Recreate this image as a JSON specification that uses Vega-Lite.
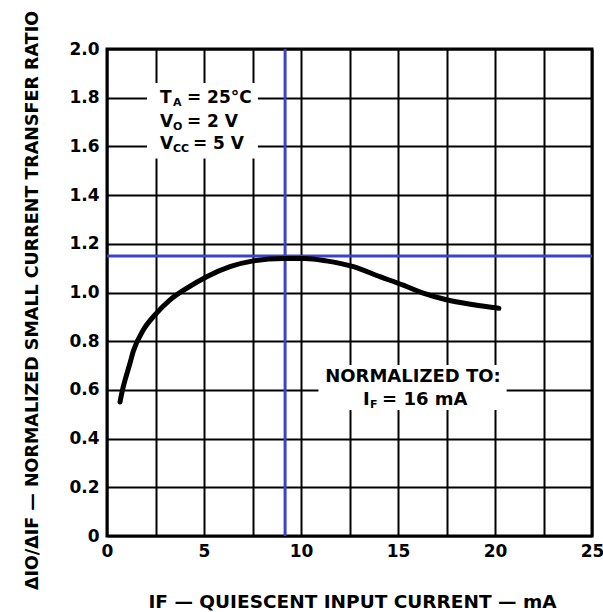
{
  "$schema": "https://vega.github.io/schema/vega-lite/v6.json",
  "width": 485,
  "height": 487,
  "autosize": "none",
  "padding": {"left": 107, "top": 49, "right": 11, "bottom": 76},
  "background": "white",
  "config": {
    "view": {"stroke": "black", "strokeWidth": 3},
    "font": "DejaVu Sans",
    "text": {"font": "DejaVu Sans", "fontWeight": "bold", "fontSize": 16, "color": "black"}
  },
  "datasets": {
    "curve": [
      {"x": 0.67, "y": 0.55}, {"x": 0.8, "y": 0.6}, {"x": 0.93, "y": 0.64}, {"x": 1.15, "y": 0.7},
      {"x": 1.36, "y": 0.76}, {"x": 1.87, "y": 0.846}, {"x": 2.47, "y": 0.908}, {"x": 3.25, "y": 0.97},
      {"x": 4.1, "y": 1.017}, {"x": 5.14, "y": 1.065}, {"x": 6.34, "y": 1.106}, {"x": 7.54, "y": 1.13},
      {"x": 9.1, "y": 1.14}, {"x": 10.2, "y": 1.14}, {"x": 11.3, "y": 1.13}, {"x": 12.7, "y": 1.106},
      {"x": 14.07, "y": 1.065}, {"x": 15.27, "y": 1.03}, {"x": 16.3, "y": 0.997}, {"x": 17.5, "y": 0.97},
      {"x": 18.9, "y": 0.95}, {"x": 20.2, "y": 0.935}
    ],
    "boxes": [
      {"x": 2.06, "x2": 7.78, "y": 1.55, "y2": 1.86},
      {"x": 10.9, "x2": 20.6, "y": 0.517, "y2": 0.702}
    ],
    "params": [
      {"x": 2.73, "y": 1.80, "main": "T", "sub": "A", "rest": "= 25°C", "grp": "a"},
      {"x": 2.73, "y": 1.70, "main": "V", "sub": "O", "rest": "= 2 V", "grp": "a"},
      {"x": 2.73, "y": 1.61, "main": "V", "sub": "CC", "rest": "= 5 V", "grp": "b"}
    ],
    "norm": [
      {"x": 15.77, "y": 0.653, "t": "NORMALIZED TO:"}
    ],
    "norm2": [
      {"x": 13.2, "y": 0.559, "main": "I", "sub": "F", "rest": "= 16 mA"}
    ],
    "vline": [{"x": 9.18}],
    "hline": [{"y": 1.15}]
  },
  "layer": [
    {
      "data": {"name": "boxes"},
      "mark": {"type": "rect", "fill": "white", "stroke": null},
      "encoding": {
        "x": {
          "field": "x", "type": "quantitative",
          "scale": {"domain": [0, 25], "nice": false, "zero": false},
          "axis": {
            "values": [0, 2.5, 5, 7.5, 10, 12.5, 15, 17.5, 20, 22.5, 25],
            "labelExpr": "datum.value % 5 === 0 ? datum.label : ''",
            "grid": true, "gridColor": "black", "gridWidth": 2, "gridOpacity": 1,
            "ticks": false, "domain": false,
            "labelFont": "DejaVu Sans", "labelFontWeight": "bold", "labelFontSize": 17, "labelColor": "black",
            "labelPadding": 7, "labelFlush": false, "labelOverlap": false, "labelBound": false,
            "title": "IF — QUIESCENT INPUT CURRENT — mA",
            "titleFont": "DejaVu Sans", "titleFontWeight": "bold", "titleFontSize": 18.5, "titleColor": "black",
            "titleX": 245, "titleY": 65, "titleBaseline": "middle", "titleAlign": "center"
          }
        },
        "x2": {"field": "x2"},
        "y": {
          "field": "y", "type": "quantitative",
          "scale": {"domain": [0, 2], "nice": false, "zero": false},
          "axis": {
            "values": [0, 0.2, 0.4, 0.6, 0.8, 1.0, 1.2, 1.4, 1.6, 1.8, 2.0],
            "labelExpr": "datum.value === 0 ? '0' : format(datum.value, '.1f')",
            "grid": true, "gridColor": "black", "gridWidth": 2, "gridOpacity": 1,
            "ticks": false, "domain": false,
            "labelFont": "DejaVu Sans", "labelFontWeight": "bold", "labelFontSize": 17, "labelColor": "black",
            "labelPadding": 8, "labelFlush": false, "labelOverlap": false, "labelBound": false,
            "title": "ΔIO/ΔIF — NORMALIZED SMALL CURRENT TRANSFER RATIO",
            "titleFont": "DejaVu Sans", "titleFontWeight": "bold", "titleFontSize": 17.5, "titleColor": "black",
            "titleX": -75, "titleY": 251, "titleAngle": 270, "titleBaseline": "middle", "titleAlign": "center"
          }
        },
        "y2": {"field": "y2"}
      }
    },
    {
      "data": {"name": "hline"},
      "mark": {"type": "rule", "color": "#3a43c9", "strokeWidth": 3},
      "encoding": {"y": {"field": "y", "type": "quantitative"}}
    },
    {
      "data": {"name": "vline"},
      "mark": {"type": "rule", "color": "#3a43c9", "strokeWidth": 3},
      "encoding": {"x": {"field": "x", "type": "quantitative"}}
    },
    {
      "data": {"name": "curve"},
      "mark": {"type": "line", "color": "black", "strokeWidth": 5, "interpolate": "monotone", "strokeCap": "round"},
      "encoding": {
        "x": {"field": "x", "type": "quantitative"},
        "y": {"field": "y", "type": "quantitative"}
      }
    },
    {
      "data": {"name": "params"},
      "mark": {"type": "text", "align": "left", "baseline": "middle", "fontSize": 17},
      "encoding": {
        "x": {"field": "x", "type": "quantitative"},
        "y": {"field": "y", "type": "quantitative"},
        "text": {"field": "main"}
      }
    },
    {
      "data": {"name": "params"},
      "mark": {"type": "text", "align": "left", "baseline": "middle", "fontSize": 11, "dx": 13, "dy": 5},
      "encoding": {
        "x": {"field": "x", "type": "quantitative"},
        "y": {"field": "y", "type": "quantitative"},
        "text": {"field": "sub"}
      }
    },
    {
      "data": {"name": "params"},
      "transform": [{"filter": "datum.grp === 'a'"}],
      "mark": {"type": "text", "align": "left", "baseline": "middle", "fontSize": 17, "dx": 27},
      "encoding": {
        "x": {"field": "x", "type": "quantitative"},
        "y": {"field": "y", "type": "quantitative"},
        "text": {"field": "rest"}
      }
    },
    {
      "data": {"name": "params"},
      "transform": [{"filter": "datum.grp === 'b'"}],
      "mark": {"type": "text", "align": "left", "baseline": "middle", "fontSize": 17, "dx": 33},
      "encoding": {
        "x": {"field": "x", "type": "quantitative"},
        "y": {"field": "y", "type": "quantitative"},
        "text": {"field": "rest"}
      }
    },
    {
      "data": {"name": "norm"},
      "mark": {"type": "text", "align": "center", "baseline": "middle", "fontSize": 18},
      "encoding": {
        "x": {"field": "x", "type": "quantitative"},
        "y": {"field": "y", "type": "quantitative"},
        "text": {"field": "t"}
      }
    },
    {
      "data": {"name": "norm2"},
      "mark": {"type": "text", "align": "left", "baseline": "middle", "fontSize": 18},
      "encoding": {
        "x": {"field": "x", "type": "quantitative"},
        "y": {"field": "y", "type": "quantitative"},
        "text": {"field": "main"}
      }
    },
    {
      "data": {"name": "norm2"},
      "mark": {"type": "text", "align": "left", "baseline": "middle", "fontSize": 11, "dx": 7, "dy": 5},
      "encoding": {
        "x": {"field": "x", "type": "quantitative"},
        "y": {"field": "y", "type": "quantitative"},
        "text": {"field": "sub"}
      }
    },
    {
      "data": {"name": "norm2"},
      "mark": {"type": "text", "align": "left", "baseline": "middle", "fontSize": 18, "dx": 19},
      "encoding": {
        "x": {"field": "x", "type": "quantitative"},
        "y": {"field": "y", "type": "quantitative"},
        "text": {"field": "rest"}
      }
    }
  ]
}
